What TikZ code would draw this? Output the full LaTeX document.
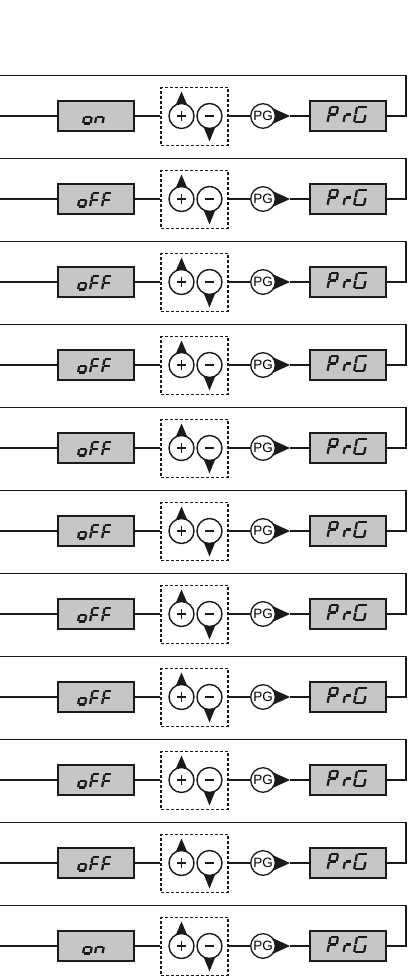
\documentclass[tikz,border=0pt]{standalone}
\usepackage{fontspec}
\setmainfont{Liberation Sans}
\definecolor{lcdgray}{RGB}{198,198,198}
\definecolor{ink}{RGB}{26,26,26}
\def\G{0.5}
\def\sga{(\G,-\H)--({\W-\G},-\H)}
\def\sgb{(\W,{-\H+\G})--(\W,{-\H/2-\G})}
\def\sgc{(\W,{-\H/2+\G})--(\W,-\G)}
\def\sgd{(\G,0)--({\W-\G},0)}
\def\sge{(0,{-\H/2+\G})--(0,-\G)}
\def\sgf{(0,{-\H+\G})--(0,{-\H/2-\G})}
\def\sgg{(\G,{-\H/2})--({\W-\G},{-\H/2})}
\newcommand\sevseg[5]{%
  \begin{scope}[shift={(#1,#2)},xslant=0.2]
    \def\W{#3}\def\H{#4}%
    \foreach \s in {#5}{%
      \expandafter\let\expandafter\cursg\csname sg\s\endcsname
      \draw[segline] \cursg;}
  \end{scope}}
\begin{document}
\begin{tikzpicture}[x=1pt,y=-1pt,
  conn/.style={draw=ink,line width=1.2pt},
  lcd/.style={draw=ink,line width=1.5pt,fill=lcdgray,minimum width=76pt,minimum height=30pt,inner sep=0pt},
  btnbox/.style={draw=ink,line width=1.2pt,dash pattern=on 3pt off 2pt,minimum width=67pt,minimum height=57.5pt,inner sep=0pt},
  btn/.style={circle,draw=ink,fill=white,line width=1.4pt,minimum size=25pt,inner sep=0pt},
  pgbtn/.style={circle,draw=ink,fill=white,line width=1.3pt,minimum size=24.6pt,inner sep=0pt,font=\fontsize{13.5}{14}\selectfont},
  tri/.style={fill=ink,draw=none},
  segline/.style={draw=ink,line width=2.2pt,line cap=butt}]
\useasboundingbox (0,0) rectangle (409,976);
\foreach \i in {1,...,11}{
  \pgfmathsetmacro\cy{116+83*(\i-1)}
  \coordinate (L\i) at (0,\cy);
  \coordinate (T\i) at (0,\cy-40.5);
  \coordinate (R\i) at (406,\cy);
  \coordinate (tip\i) at (290,\cy);
  \node[lcd] (box\i) at (96,\cy) {};
  \node[btnbox] (btn\i) at (194.5,\cy+0.6) {};
  \fill[tri] (181.5,\cy-24.5) -- (174,\cy-7) -- (189,\cy-7) -- cycle;
  \fill[tri] (209.5,\cy+25.5) -- (202,\cy+7) -- (217,\cy+7) -- cycle;
  \node[btn] (plus\i) at (181.5,\cy) {};
  \node[btn] (minus\i) at (209.5,\cy) {};
  \draw[ink,line width=1.8pt] (plus\i.center) ++(-4.6,0) -- ++(9.2,0);
  \draw[ink,line width=1.8pt] (plus\i.center) ++(0,-4.6) -- ++(0,9.2);
  \draw[ink,line width=2.1pt] (minus\i.center) ++(-4.8,0) -- ++(9.6,0);
  \fill[tri] (267,\cy-10.5) -- (tip\i) -- (267,\cy+10.5) -- cycle;
  \node[pgbtn] (pg\i) at (263,\cy) {PG};
  \node[lcd] (prg\i) at (348,\cy) {};
  \draw[conn] (L\i) -- (box\i.west);
  \draw[conn] (box\i.east) -- (box\i.east -| btn\i.west);
  \draw[conn] (pg\i.west -| btn\i.east) -- (pg\i.west);
  \draw[conn] (tip\i) -- (prg\i.west);
  \draw[conn] (prg\i.east) -- (R\i) |- (T\i);
  \sevseg{327.5}{\cy+6.3}{7.5}{15.5}{a,b,f,g,e}
  \sevseg{343.5}{\cy+6.3}{6}{15.5}{g,e}
  \sevseg{354}{\cy+6.3}{10}{15.5}{a,f,e,d,c}
}
\foreach \i in {1,11}{
  \pgfmathsetmacro\cy{116+83*(\i-1)}
  \sevseg{83}{\cy+7.5}{7.5}{13.5}{g,c,d,e}
  \sevseg{95}{\cy+7.5}{7.5}{13.5}{g,c,e}
}
\foreach \i in {2,...,10}{
  \pgfmathsetmacro\cy{116+83*(\i-1)}
  \sevseg{78}{\cy+7.5}{7}{13.5}{g,c,d,e}
  \sevseg{90}{\cy+7.5}{7}{13.5}{a,f,g,e}
  \sevseg{102}{\cy+7.5}{7}{13.5}{a,f,g,e}
}
\end{tikzpicture}
\end{document}
